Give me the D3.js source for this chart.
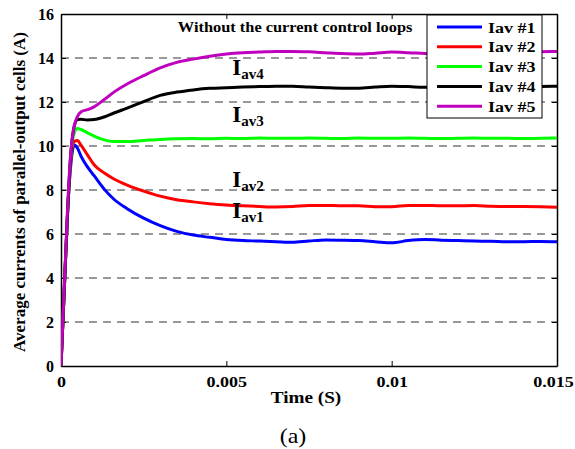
<!DOCTYPE html>
<html><head><meta charset="utf-8">
<script src="https://cdn.jsdelivr.net/npm/d3@7"></script>
<style>
body{margin:0;background:#fff;}
text{font-family:"Liberation Serif","DejaVu Serif","Times New Roman",serif;}
</style></head>
<body><svg id="c" width="575" height="449"></svg>
<script>
// time in seconds
const time = [0,0.0001,0.0002,0.0003,0.0004,0.0005,0.0006,0.0008,0.001,0.0013,0.0016,0.002,0.0025,0.003,0.0035,0.004,0.0045,0.005,0.0055,0.006,0.0065,0.007,0.0075,0.008,0.0085,0.009,0.0095,0.01,0.0105,0.011,0.0115,0.012,0.0125,0.013,0.0135,0.014,0.0145,0.015];
const iav1 = [0,3.5,7.0,9.2,10.05,9.9,9.55,9.05,8.65,8.05,7.58,7.15,6.72,6.38,6.12,5.95,5.85,5.75,5.7,5.68,5.65,5.62,5.68,5.73,5.72,5.7,5.65,5.6,5.7,5.75,5.72,5.7,5.68,5.67,5.65,5.65,5.66,5.65];
const iav2 = [0,3.5,7.0,9.4,10.2,10.25,10.05,9.6,9.15,8.78,8.5,8.22,7.95,7.72,7.56,7.46,7.38,7.32,7.28,7.25,7.23,7.25,7.3,7.3,7.28,7.28,7.24,7.24,7.3,7.3,7.28,7.28,7.29,7.26,7.25,7.25,7.24,7.22];
const iav3 = [0,3.5,7.0,9.6,10.6,10.8,10.75,10.6,10.45,10.28,10.2,10.2,10.25,10.3,10.33,10.34,10.33,10.35,10.34,10.36,10.35,10.35,10.36,10.35,10.34,10.36,10.35,10.35,10.36,10.35,10.34,10.35,10.36,10.35,10.35,10.34,10.35,10.36];
const iav4 = [0,3.5,7.0,9.7,10.9,11.2,11.22,11.18,11.2,11.32,11.5,11.72,12.02,12.3,12.45,12.55,12.62,12.65,12.68,12.7,12.72,12.72,12.68,12.65,12.63,12.63,12.68,12.72,12.7,12.67,12.68,12.68,12.66,12.65,12.66,12.68,12.7,12.72];
const iav5 = [0,3.6,7.2,9.8,10.9,11.35,11.55,11.65,11.78,12.1,12.45,12.82,13.2,13.55,13.8,13.95,14.08,14.18,14.24,14.27,14.3,14.3,14.28,14.24,14.2,14.18,14.22,14.27,14.24,14.2,14.18,14.2,14.22,14.22,14.24,14.26,14.28,14.3];
const seriesNames = ["Iav #1","Iav #2","Iav #3","Iav #4","Iav #5"];
const seriesColors = ["#0000ff","#ff0000","#00ff00","#000000","#bf00bf"];
const seriesValues = [iav1,iav2,iav3,iav4,iav5];
const xTicks = [0,0.005,0.01,0.015];
const xTickLabels = ["0","0.005","0.01","0.015"];
const yTicks = [0,2,4,6,8,10,12,14,16];
const gridValues = [2,4,6,8,10,12,14];
const curveLabels = [
  {sub:"av4", t:0.00518, v:13.23},
  {sub:"av3", t:0.00518, v:11.09},
  {sub:"av2", t:0.00518, v:8.14},
  {sub:"av1", t:0.00518, v:6.73}
];

const FONT = '"Liberation Serif","DejaVu Serif","Times New Roman",serif';
const SX = 1.2;
const svg = d3.select("#c");
const L=61, R=557, T=14, B=366;
const x = d3.scaleLinear().domain([0,0.015]).range([L,R]);
const y = d3.scaleLinear().domain([0,16]).range([B,T]);

function stext(parent, px, py, str, size, weight, anchor, sx){
  return parent.append("text").attr("transform",`translate(${px},${py}) scale(${sx||SX},1)`)
    .attr("text-anchor",anchor||"start").style("font-size",size+"px")
    .style("font-weight",weight||"bold").text(str);
}

svg.append("defs").append("clipPath").attr("id","clip")
  .append("rect").attr("x",L).attr("y",T).attr("width",R-L).attr("height",B-T);

// grid
svg.append("g").selectAll("line").data(gridValues).join("line")
  .attr("x1",L).attr("x2",R).attr("y1",d=>y(d)).attr("y2",d=>y(d))
  .attr("stroke","#333").attr("stroke-width",1).attr("stroke-dasharray","8,6");

// axes
const fmt = d => xTickLabels[xTicks.indexOf(d)];
const gx = svg.append("g").attr("transform",`translate(0,${B})`)
  .call(d3.axisBottom(x).tickValues(xTicks).tickFormat(fmt).tickSizeInner(-5).tickSizeOuter(0).tickPadding(10));
const gxt = svg.append("g").attr("transform",`translate(0,${T})`)
  .call(d3.axisTop(x).tickValues(xTicks).tickFormat("").tickSizeInner(-5).tickSizeOuter(0));
const gy = svg.append("g").attr("transform",`translate(${L},0)`)
  .call(d3.axisLeft(y).tickValues(yTicks).tickSizeInner(-5).tickSizeOuter(0).tickPadding(7));
const gyr = svg.append("g").attr("transform",`translate(${R},0)`)
  .call(d3.axisRight(y).tickValues(yTicks).tickFormat("").tickSizeInner(-5).tickSizeOuter(0));
[gx,gxt,gy,gyr].forEach(g=>{
  g.attr("font-family",FONT);
  g.select(".domain").attr("stroke","#000").attr("stroke-width",1.5);
  g.selectAll(".tick line").attr("stroke","#000");
  g.selectAll("text").attr("fill","#000").style("font-family",FONT)
    .style("font-weight","bold").style("font-size","16px");
});
gx.selectAll(".tick text").style("font-size","15px")
  .attr("transform",(d,i)=>`translate(${i===xTicks.length-1?-4:0},0) scale(${SX},1)`);

// lines
const line = d3.line().x((d,i)=>x(time[i])).y(d=>y(d)).curve(d3.curveMonotoneX);
svg.append("g").attr("clip-path","url(#clip)").selectAll("path").data(seriesValues).join("path")
  .attr("d",d=>line(d)).attr("fill","none")
  .attr("stroke",(d,i)=>seriesColors[i]).attr("stroke-width",3).attr("stroke-linejoin","round");

// annotation
stext(svg, x(0.00708), 32, "Without the current control loops", 14, "bold", "middle", 1.17);

// curve labels
const cl = svg.append("g").selectAll("text").data(curveLabels).join("text")
  .attr("x",d=>x(d.t)).attr("y",d=>y(d.v)).style("font-weight","bold");
cl.append("tspan").style("font-size","23px").text("I");
cl.append("tspan").attr("dy",4).style("font-size","15px").text(d=>d.sub);

// legend
const lg = svg.append("g");
lg.append("rect").attr("x",427).attr("y",15).attr("width",115).attr("height",103)
  .attr("fill","#fff").attr("stroke","#000").attr("stroke-width",1);
const items = lg.selectAll("g").data(seriesNames).join("g")
  .attr("transform",(d,i)=>`translate(0,${27+i*19.8})`);
items.append("line").attr("x1",437).attr("x2",482).attr("stroke",(d,i)=>seriesColors[i]).attr("stroke-width",3);
items.each(function(d){ stext(d3.select(this), 488, 5.5, d, 15, "bold", "start", 1.2); });

// axis titles
stext(svg, 306, 403, "Time (S)", 16, "bold", "middle", 1.2);
svg.append("text").attr("transform",`translate(25,192) rotate(-90)`).attr("text-anchor","middle")
  .style("font-weight","bold").style("font-size","17px").text("Average currents of parallel-output cells (A)");
stext(svg, 293, 443, "(a)", 20, "normal", "middle", 1.2);
</script></body></html>
